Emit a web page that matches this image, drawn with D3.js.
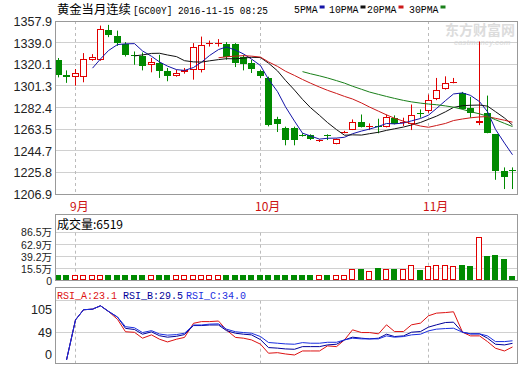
<!DOCTYPE html>
<html><head><meta charset="utf-8">
<script src="https://cdn.jsdelivr.net/npm/d3@7"></script>
<style>body{margin:0;background:#fff}svg{display:block}</style>
</head><body>
<svg id="c" width="520" height="365"></svg>
<script>
// ---------------- data ----------------
const titleName = "黄金当月连续";
const titleCode = "[GC00Y] 2016-11-15 08:25";
const opens  = [1323.5,1311.1,1309.1,1309.1,1324.1,1324.1,1350.1,1344.9,1337.7,1328.2,
                1327.6,1319.7,1321.2,1314.5,1309.6,1313.1,1314.8,1314.8,1337.9,1338.2,
                1337.7,1337.7,1326.3,1321.2,1313.9,1308.2,1272.0,1264.8,1264.8,1258.5,
                1258.4,1253.2,1258.2,1250.3,1260.6,1262.7,1269.7,1265.5,1266.6,1265.7,
                1273.5,1268.8,1267.7,1277.3,1279.2,1290.0,1298.7,1303.8,1295.2,1282.2,
                1268.5,1277.8,1259.0,1227.1,1227.5];
const highs  = [1325.6,1314.8,1316.0,1329.9,1329.0,1353.9,1354.5,1349.5,1339.5,1331.3,
                1330.4,1325.6,1328.4,1316.9,1315.4,1316.9,1338.6,1344.3,1340.8,1342.1,
                1339.5,1338.6,1328.4,1324.1,1315.0,1309.3,1274.3,1265.7,1265.7,1259.9,
                1259.0,1254.6,1259.0,1255.3,1262.0,1272.0,1276.3,1268.5,1272.6,1276.3,
                1275.5,1273.5,1285.0,1280.7,1293.7,1308.2,1309.6,1308.2,1296.0,1291.7,
                1340.0,1292.8,1259.0,1230.1,1230.1];
const lows   = [1308.7,1303.9,1301.5,1304.4,1323.2,1323.2,1343.8,1336.2,1326.9,1319.7,
                1314.8,1313.1,1308.2,1305.3,1309.3,1311.9,1306.7,1313.0,1335.6,1335.6,
                1324.1,1317.7,1314.8,1312.5,1308.0,1265.9,1261.0,1249.4,1249.4,1257.0,
                1254.0,1252.3,1254.0,1250.3,1259.9,1262.7,1265.0,1262.7,1259.9,1265.0,
                1267.7,1266.2,1262.7,1273.5,1277.8,1288.8,1298.0,1303.5,1280.7,1273.5,
                1267.0,1259.9,1219.3,1211.2,1211.2];
const closes = [1310.5,1309.1,1312.5,1324.7,1326.9,1350.7,1345.8,1338.6,1327.8,1327.8,
                1318.9,1322.4,1313.9,1309.6,1312.5,1315.4,1335.1,1337.1,1338.6,1338.6,
                1326.9,1321.2,1320.4,1316.3,1310.2,1266.8,1267.7,1254.0,1253.8,1257.7,
                1254.6,1254.0,1257.6,1254.6,1261.3,1270.0,1265.7,1266.2,1266.1,1274.3,
                1268.3,1269.4,1275.5,1276.6,1288.8,1297.4,1303.9,1304.4,1281.3,1277.8,
                1270.3,1259.9,1227.1,1221.4,1227.1];
// volume in 万 (10k)
const volumes = [2,2,2,2,2,2,2,2,2,2, 2,2,2,2,2,2,2,2,2,2,
                 2,2,2,2,2,2,2,2,2,2, 2,2,2,2,2,
                 14.8,14.8,10.3,17.4,14.8, 14.8,14.8,22.1,12.8,20.7,
                 22.7,22.7,20.7,22.7,20.7, 77.4,40.5,42.5,34.6,0.6519];
const rsiA = [null,0,71,89,90,96,86,72,50,49, 38.6,44.5,36.8,32,36.8,40,65,68,68,69,
              53,40,38.6,35.6,28,12,13,10.7,8.9,16, 16,16,25,23.7,35.6,53.4,48.6,48.6,46.3,62.3,
              50.4,50.4,62.3,65.3,78.3,83,84,85.4,49.2,42.7, 42.7,32.6,20.8,16,23.1];
const rsiB = [null,0,71,89,90,96,86,76,56,54, 45.7,49.8,43,40.4,42,45,61,61,62,62,
              52,47.4,45.7,44.5,36,22,21,19.6,19,23.7, 23.7,23.7,26.7,27.9,35.6,40.4,38.6,37.4,38.6,45.7,
              41.5,42.7,49.2,50.4,58.2,62.3,66.4,67,49.2,46.3, 46.3,38.6,27.9,26.7,29.5];
const rsiC = [null,0,71,89,90,96,86,76,59,57, 48.6,52,46,44,45,47.4,62,62,63.5,64,
              54.6,50,48.6,47.4,41.5,31,29.7,28.5,27.9,30.8, 29.7,29.7,31.4,31.4,35.6,38.6,37.4,37.4,37.4,42.7,
              40.4,41.5,44.5,45.7,51.6,54.6,55.7,56.3,49.2,46.3, 46.3,42.7,32.6,32.6,34.0];
const priceTicks = [1357.9,1339.0,1320.1,1301.3,1282.4,1263.5,1244.7,1225.8,1206.9];
const volTicks = [86.5,62.9,39.2,15.5,0];
const rsiTicks = [105,49,0];
const monthLabels = ["9月","10月","11月"];
const monthStarts = [2,24,44];
const maPeriods = [5,10,20,30];
const maLabels = ["5PMA","10PMA","20PMA","30PMA"];
const rsiLabels = ["RSI_A","RSI_B","RSI_C"];

// ---------------- styles ----------------
const RED = "#e00000", GREEN = "#008a00";
const maColors = ["#1414a8","#111111","#cc1a1a","#1a801a"];
const rsiColors = ["#dd1111","#000099","#1a2ee0"];
const GRID = "#d0d0d0", BORDER = "#999999";
const L = 55, R = 518;

const svg = d3.select("#c");
const crisp = v => Math.floor(v) + 0.5;

const idx = d3.range(closes.length);
const x = d3.scaleBand().domain(idx).range([53.8, 516.4]);
const cx = i => Math.round(x(i) + x.bandwidth() / 2);
const y = d3.scaleLinear().domain([1206.9, 1357.9]).range([194, 21]);
const yV = d3.scaleLinear().domain([0, 86.5]).range([276.5, 232.7]);
const volBottom = 280;
const yR = d3.scaleLinear().domain([0, 105]).range([360, 300.7]);

// ---------------- title & legend ----------------
svg.append("text").attr("x", 57).attr("y", 14).attr("font-family", "Noto Sans CJK SC")
  .attr("font-size", 12.3).attr("fill", "#000").text(titleName);
svg.append("text").attr("x", 133).attr("y", 13.5).attr("font-family", "Liberation Mono, DejaVu Sans Mono")
  .attr("font-size", 11).attr("fill", "#000").attr("textLength", 135).attr("lengthAdjust", "spacingAndGlyphs")
  .text(titleCode);
const legX = [294, 329, 367, 409];
const lg = svg.append("g").selectAll("g").data(maLabels).join("g")
  .attr("transform", (d, i) => `translate(${legX[i]},0)`);
lg.append("text").attr("y", 12.5).attr("font-family", "Liberation Mono, DejaVu Sans Mono").attr("font-size", 11)
  .attr("fill", "#000").attr("textLength", d => d.length * 5.9).attr("lengthAdjust", "spacingAndGlyphs").text(d => d);
lg.append("rect").attr("x", d => d.length * 5.9 + 2).attr("y", 5.5).attr("width", 5).attr("height", 3)
  .attr("fill", (d, i) => maColors[i]);

// watermark
svg.append("text").attr("x", 445).attr("y", 35).attr("font-family", "Noto Sans CJK SC").attr("font-weight", "bold")
  .attr("font-size", 14).attr("fill", "#dcdcdc").text("东方财富网");
svg.append("text").attr("x", 454).attr("y", 45).attr("font-family", "Liberation Sans").attr("font-weight", "bold")
  .attr("font-style", "italic").attr("font-size", 7.5).attr("fill", "#e2e2e2").text("eastmoney.com");

// ---------------- main panel ----------------
const gm = svg.append("g");
gm.selectAll("line.grid").data(priceTicks).join("line").attr("class", "grid")
  .attr("x1", L).attr("x2", R).attr("y1", d => crisp(y(d))).attr("y2", d => crisp(y(d)))
  .attr("stroke", GRID);
gm.selectAll("line.vdash").data(monthStarts).join("line").attr("class", "vdash")
  .attr("x1", d => cx(d) + 0.5).attr("x2", d => cx(d) + 0.5).attr("y1", y(1357.9)).attr("y2", y(1206.9))
  .attr("stroke", "#bbb").attr("stroke-dasharray", "3,3");

svg.append("g").attr("transform", `translate(${L},0.5)`)
  .call(d3.axisLeft(y).tickValues(priceTicks).tickFormat(d3.format(".1f")).tickSize(0).tickPadding(3))
  .call(g => g.select(".domain").remove())
  .selectAll("text").attr("font-size", 12.6).attr("font-family", "Liberation Sans, Arial").attr("fill", "#222");

const candles = gm.selectAll("g.candle").data(idx).join("g").attr("class", "candle");
candles.each(function (i) {
  const g = d3.select(this);
  const xc = cx(i);
  const o = y(opens[i]), c = y(closes[i]), h = y(highs[i]), l = y(lows[i]);
  const top = Math.round(Math.min(o, c)), bot = Math.round(Math.max(o, c));
  const up = closes[i] >= opens[i];
  const col = up ? RED : GREEN;
  if (bot - top < 2) {
    g.append("line").attr("x1", xc + 0.5).attr("x2", xc + 0.5).attr("y1", h).attr("y2", l).attr("stroke", col);
    g.append("rect").attr("x", xc - 3).attr("y", top).attr("width", 7).attr("height", Math.max(bot - top, 1)).attr("fill", col);
  } else if (up) {
    g.append("line").attr("x1", xc + 0.5).attr("x2", xc + 0.5).attr("y1", h).attr("y2", top).attr("stroke", col);
    g.append("line").attr("x1", xc + 0.5).attr("x2", xc + 0.5).attr("y1", bot).attr("y2", l).attr("stroke", col);
    g.append("rect").attr("x", xc - 2.5).attr("y", top + 0.5).attr("width", 6).attr("height", bot - top - 1)
      .attr("fill", "#fff").attr("stroke", col);
  } else {
    g.append("line").attr("x1", xc + 0.5).attr("x2", xc + 0.5).attr("y1", h).attr("y2", l).attr("stroke", col);
    g.append("rect").attr("x", xc - 3).attr("y", top).attr("width", 7).attr("height", bot - top).attr("fill", col);
  }
});

// moving averages of the closes
const ma = n => closes.map((_, i) => i < n - 1 ? null : d3.mean(closes.slice(i - n + 1, i + 1)));
const maLine = d3.line().defined(d => d.v != null).x(d => cx(d.i) + 0.5).y(d => y(d.v));
maPeriods.forEach((n, k) => {
  const vals = ma(n).map((v, i) => ({ i, v }));
  gm.append("path").attr("d", maLine(vals)).attr("fill", "none").attr("stroke", maColors[k]).attr("stroke-width", 1);
});
gm.append("rect").attr("x", L + 0.5).attr("y", crisp(y(1357.9))).attr("width", R - L - 1)
  .attr("height", crisp(y(1206.9)) - crisp(y(1357.9))).attr("fill", "none").attr("stroke", BORDER);

// month labels
svg.selectAll("text.month").data(monthLabels).join("text").attr("class", "month")
  .attr("x", (d, i) => cx(monthStarts[i]) - 5).attr("y", 211).attr("font-size", 12)
  .attr("font-family", "Noto Sans CJK SC").attr("fill", "#cc1111").text(d => d);

// ---------------- volume panel ----------------
const gv = svg.append("g");
gv.selectAll("line.grid").data(volTicks.filter(d => d > 0)).join("line").attr("class", "grid")
  .attr("x1", L).attr("x2", R).attr("y1", d => crisp(yV(d))).attr("y2", d => crisp(yV(d))).attr("stroke", GRID);
gv.selectAll("line.vdash").data(monthStarts).join("line").attr("class", "vdash")
  .attr("x1", d => cx(d) + 0.5).attr("x2", d => cx(d) + 0.5).attr("y1", yV(86.5)).attr("y2", volBottom)
  .attr("stroke", "#bbb").attr("stroke-dasharray", "3,3");
gv.selectAll("rect.vol").data(idx).join("rect").attr("class", "vol")
  .each(function (i) {
    const r = d3.select(this);
    const up = closes[i] >= opens[i];
    const xc = cx(i);
    const t = Math.round(yV(volumes[i]));
    if (up) r.attr("x", xc - 2.5).attr("y", t + 0.5).attr("width", 5).attr("height", volBottom - t - 1)
      .attr("fill", "#fff").attr("stroke", RED);
    else r.attr("x", xc - 3).attr("y", t).attr("width", 6).attr("height", volBottom - t).attr("fill", GREEN);
  });
gv.append("rect").attr("x", L + 0.5).attr("y", 214.5).attr("width", R - L - 1).attr("height", volBottom - 214)
  .attr("fill", "none").attr("stroke", BORDER);
const volAxis = svg.append("g").attr("transform", `translate(${L},0)`)
  .call(d3.axisLeft(yV).tickValues(volTicks).tickFormat(d => d === 0 ? "0" : d3.format(".1f")(d) + "万").tickSize(0).tickPadding(3))
  .call(g => g.select(".domain").remove());
volAxis.selectAll("text").attr("font-size", 10.5).attr("font-family", "Liberation Sans, Noto Sans CJK SC").attr("fill", "#222")
  .attr("dy", d => d === 0 ? "0.78em" : (d === 86.5 ? "0.3em" : "0.32em"));
svg.append("text").attr("x", 57).attr("y", 229).attr("font-size", 12).attr("font-family", "Noto Sans CJK SC")
  .attr("fill", "#000").text("成交量:" + Math.round(volumes[volumes.length - 1] * 10000));

// ---------------- RSI panel ----------------
const gr = svg.append("g");
gr.selectAll("line.grid").data(rsiTicks.filter(d => d > 0)).join("line").attr("class", "grid")
  .attr("x1", L).attr("x2", R).attr("y1", d => crisp(yR(d))).attr("y2", d => crisp(yR(d))).attr("stroke", GRID);
gr.selectAll("line.vdash").data(monthStarts).join("line").attr("class", "vdash")
  .attr("x1", d => cx(d) + 0.5).attr("x2", d => cx(d) + 0.5).attr("y1", yR(105)).attr("y2", 363)
  .attr("stroke", "#bbb").attr("stroke-dasharray", "3,3");
const rsiLine = d3.line().defined(d => d.v != null).x(d => cx(d.i) + 0.5).y(d => yR(d.v));
[rsiA, rsiB, rsiC].forEach((arr, k) => {
  gr.append("path").attr("d", rsiLine(arr.map((v, i) => ({ i, v })))).attr("fill", "none")
    .attr("stroke", rsiColors[k]).attr("stroke-width", 1);
});
gr.append("rect").attr("x", L + 0.5).attr("y", 287.5).attr("width", R - L - 1).attr("height", 76)
  .attr("fill", "none").attr("stroke", BORDER);
const rsiAxis = svg.append("g").attr("transform", `translate(${L},0)`)
  .call(d3.axisLeft(yR).tickValues(rsiTicks).tickSize(0).tickPadding(3))
  .call(g => g.select(".domain").remove());
rsiAxis.selectAll("text").attr("font-size", 12.6).attr("font-family", "Liberation Sans, Arial").attr("fill", "#222")
  .attr("dy", d => d === 105 ? "1.05em" : (d === 0 ? "-0.1em" : "0.32em"));
const rsiLast = [rsiA, rsiB, rsiC].map(a => a[a.length - 1]);
const rsiX = [57, 123, 186];
svg.selectAll("text.rsih").data(rsiLabels).join("text").attr("class", "rsih")
  .attr("x", (d, i) => rsiX[i]).attr("y", 298.5).attr("font-size", 10.5)
  .attr("font-family", "Liberation Mono, DejaVu Sans Mono").attr("fill", (d, i) => rsiColors[i])
  .attr("textLength", 60).attr("lengthAdjust", "spacingAndGlyphs")
  .text((d, i) => d + ":" + d3.format(".1f")(rsiLast[i]));
</script>
</body></html>
